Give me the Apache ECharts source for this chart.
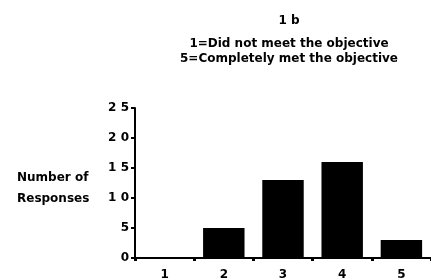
<!DOCTYPE html>
<html>
<head>
<meta charset="utf-8">
<script src="https://cdn.jsdelivr.net/npm/echarts@6/dist/echarts.min.js"></script>
<style>
html, body { margin: 0; padding: 0; background: #fff; }
#chart { width: 431px; height: 280px; }
</style>
</head>
<body>
<div id="chart"></div>
<script>
// rating scale and counts
var ratings = ['1', '2', '3', '4', '5'];
var responses = [0, 5, 13, 16, 3];
var yTicks = [0, 5, 10, 15, 20, 25];

var font = 'DejaVu Sans';

chart = echarts.init(document.getElementById('chart'));

option = {
    animation: false,
    backgroundColor: '#fff',
    title: [{
        text: '1 b',
        subtext: '1=Did not meet the objective\n5=Completely met the objective',
        left: 284,
        top: 10,
        textAlign: 'center',
        itemGap: 9,
        textStyle: {color: '#000', fontFamily: font, fontWeight: 'bold', fontSize: 12},
        subtextStyle: {color: '#000', fontFamily: font, fontWeight: 'bold', fontSize: 12, lineHeight: 15}
    }, {
        text: 'Number of\nResponses',
        left: 12,
        top: 162,
        textStyle: {color: '#000', fontFamily: font, fontWeight: 'bold', fontSize: 12, lineHeight: 21}
    }],
    grid: {
        left: 135,
        right: 0,
        top: 108,
        bottom: 22,
        outerBoundsMode: 'none'
    },
    xAxis: {
        type: 'category',
        data: ratings,
        axisLine: {lineStyle: {color: '#000', width: 2}},
        axisTick: {show: true, length: 3, lineStyle: {color: '#000', width: 3}},
        axisLabel: {color: '#000', fontFamily: font, fontWeight: 'bold', fontSize: 12, margin: 11}
    },
    yAxis: {
        type: 'value',
        min: yTicks[0],
        max: yTicks[yTicks.length - 1],
        interval: yTicks[1] - yTicks[0],
        splitLine: {show: false},
        axisLine: {show: true, lineStyle: {color: '#000', width: 2}},
        axisTick: {show: true, length: 4, lineStyle: {color: '#000', width: 2}},
        axisLabel: {
            color: '#000', fontFamily: font, fontWeight: 'bold', fontSize: 12, margin: 6,
            formatter: function (v) { return String(v).split('').join(' '); }
        }
    },
    series: [{
        type: 'bar',
        data: responses,
        barCategoryGap: '30%',
        itemStyle: {color: '#000'}
    }]
};

chart.setOption(option);
</script>
</body>
</html>
